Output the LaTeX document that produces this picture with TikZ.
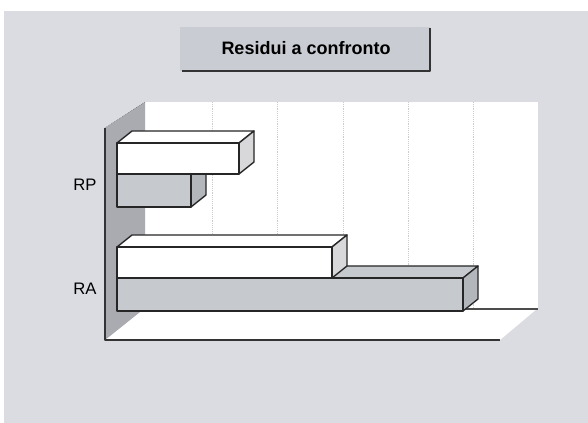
\documentclass[tikz,border=0pt]{standalone}
\usepackage{fontspec}
\setmainfont{Liberation Sans}
\definecolor{sfondo}{HTML}{DADCE2}
\definecolor{titolo}{HTML}{C9CCD3}
\definecolor{parete}{HTML}{A9ABB0}
\definecolor{grigio}{HTML}{C6C9CE}
\definecolor{grigioscuro}{HTML}{B3B6BB}
\definecolor{lato}{HTML}{D8D8DA}
\usetikzlibrary{positioning}
\begin{document}
\begin{tikzpicture}[x=0.75pt,y=-0.75pt,line join=round,
  faccia/.style={draw=black!85,line width=1pt},
  etichetta/.style={font=\fontsize{12.5}{14}\selectfont,inner sep=0pt}]
\useasboundingbox (0,0) rectangle (588,423);
\fill[white] (0,0) rectangle (588,423);
\fill[sfondo] (4,11) rectangle (588,423);

% titolo
\fill[titolo] (180,27) rectangle (430,71);
\node[font=\fontsize{13.5}{16}\selectfont\bfseries] (title) at (306,48) {Residui a confronto};
\draw[line width=1.4pt,black!80] (182,71) -- (430,71) -- (430,28);

% pareti
\fill[white] (145,102) rectangle (538,308); %parete di fondo
\fill[white] (105,340) -- (145,308) -- (538,308) -- (500,340) -- cycle; %pavimento
\fill[parete] (105,128) -- (145,102) -- (145,308) -- (105,340) -- cycle; %parete sinistra
\draw[black!60,densely dotted] (105,128) -- (145,102);

\foreach \x in{212,277,343,408,473}
{	\draw[black!20,densely dotted] (\x,102) -- (\x,308); %verticali
}

\draw[black!80,line width=1.2pt] (105,128) -- (105,340) -- (500,340); %bordi davanti
\draw[black!70,line width=0.8pt] (117,309) -- (538,309);

% barre: fine/alto/basso/colore/lato
\foreach \xe/\yt/\yb/\col/\lt in{191/174/207/grigio/grigioscuro,239/143/174/white/lato,
	463/278/311/grigio/grigioscuro,332/247/278/white/lato}
{	\filldraw[faccia,fill=\col] (117,\yt) -- (132,{\yt-12}) -- ({\xe+15},{\yt-12}) -- (\xe,\yt) -- cycle; %sopra
	\filldraw[faccia,fill=\lt] (\xe,\yt) -- ({\xe+15},{\yt-12}) -- ({\xe+15},{\yb-12}) -- (\xe,\yb) -- cycle; %lato
	\filldraw[faccia,fill=\col] (117,\yt) rectangle (\xe,\yb); %davanti
}

\node[etichetta] (rp) at (85,185) {RP};
\node[etichetta] (ra) at (85,289) {RA};
\end{tikzpicture}
\end{document}
